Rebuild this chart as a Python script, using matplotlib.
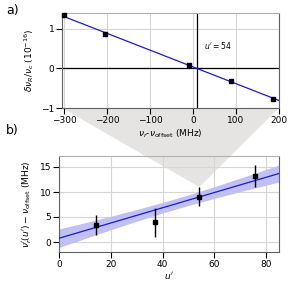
import matplotlib
matplotlib.use('Agg')
import matplotlib.pyplot as plt
from matplotlib.patches import Polygon

# panel a) shift vs laser detuning
detuning = [-301, -204, -9, 88, 186]
shift = [1.34, 0.86, 0.08, -0.32, -0.78]
fit_a_x = [-305, 200]
fit_a_y = [1.33, -0.81]
zero_cross = 9

# panel b) offset frequency vs u'
u_vals = [14.3, 37.0, 54.2, 75.7]
nu_vals = [3.5, 4.0, 9.1, 13.2]
nu_err = [2.0, 2.9, 1.9, 2.25]
fit_b_x = [0, 85]
fit_b_y = [0.75, 13.7]
band_x = [0, 10, 20, 30, 40, 50, 60, 70, 80, 85]
band_lo = [-1.10, 0.69, 2.45, 4.15, 5.79, 7.31, 8.72, 10.07, 11.36, 11.99]
band_hi = [2.60, 3.85, 5.15, 6.49, 7.91, 9.43, 11.06, 12.77, 14.52, 15.41]

plt.rcParams['font.size'] = 6.5
plt.rcParams['mathtext.fontset'] = 'dejavusans'

fig = plt.figure(figsize=(2.93, 2.86), dpi=100)
ax1 = fig.add_axes([62 / 293, 1 - 108 / 286, 217 / 293, 95 / 286])
ax2 = fig.add_axes([59 / 293, 1 - 252 / 286, 220 / 293, 96 / 286])

for ax in (ax1, ax2):
    ax.set_facecolor('none')
    ax.grid(True, color='#d6d6d6', lw=0.8)
    ax.set_axisbelow(True)
    ax.spines['top'].set_color('#b0b0b0')
    ax.spines['right'].set_color('#606060')
    ax.spines['left'].set_color('#606060')
    ax.spines['bottom'].set_color('#606060')
    for s in ax.spines.values():
        s.set_linewidth(0.8)
    ax.tick_params(direction='out', length=4, width=0.8, color='black', pad=1.5)

# top panel
ax1.axhline(0, color='black', lw=0.9, zorder=2)
ax1.axvline(zero_cross, color='black', lw=0.9, zorder=2)
ax1.plot(fit_a_x, fit_a_y, color='#1a1ad8', lw=0.9, zorder=3)
ax1.plot(detuning, shift, 's', color='black', ms=3.2, zorder=4, clip_on=False)
ax1.text(26, 0.58, "$u' = 54$", fontsize=5.5, va='center')
ax1.set_xlim(-305, 200)
ax1.set_ylim(-1, 1.4)
ax1.set_xticks([-300, -200, -100, 0, 100, 200])
ax1.set_yticks([-1, 0, 1])
ax1.set_xlabel(r'$\nu_r$-$\nu_{\rm offset}$ (MHz)', labelpad=2)
ax1.set_ylabel(r'$\delta\nu_R/\nu_c$ $(10^{-16})$', labelpad=4)

# bottom panel
ax2.fill_between(band_x, band_lo, band_hi, color='#c0c0f2', lw=0, zorder=2)
ax2.plot(fit_b_x, fit_b_y, color='#1a1ad8', lw=0.9, zorder=3)
ax2.errorbar(u_vals, nu_vals, yerr=nu_err, fmt='s', color='black', ms=3.2,
             elinewidth=1, capsize=0, zorder=4)
ax2.set_xlim(0, 85)
ax2.set_ylim(-2, 17.2)
ax2.set_xticks([0, 20, 40, 60, 80])
ax2.set_yticks([0, 5, 10, 15])
ax2.set_xlabel("$u'$", labelpad=1)
ax2.set_ylabel(r"$\nu_r'(u') - \nu_{\rm offset}$ (MHz)", labelpad=4)

# gray zoom triangle from the top axis down to the u'=54 point
inv = fig.transFigure.inverted()
p1 = inv.transform(ax1.transAxes.transform((0, 0)))
p2 = inv.transform(ax1.transAxes.transform((1, 0)))
p3 = inv.transform(ax2.transData.transform((u_vals[2], nu_vals[2] + nu_err[2])))
tri = Polygon([p1, p2, p3], closed=True, transform=fig.transFigure,
              facecolor='#e6e3e3', edgecolor='none', zorder=-1)
fig.patches.append(tri)

fig.text(0.02, 0.985, 'a)', fontsize=9, va='top')
fig.text(0.02, 1 - 124 / 286, 'b)', fontsize=9, va='top')

fig.savefig('out.png', dpi=100)
plt.close(fig)
